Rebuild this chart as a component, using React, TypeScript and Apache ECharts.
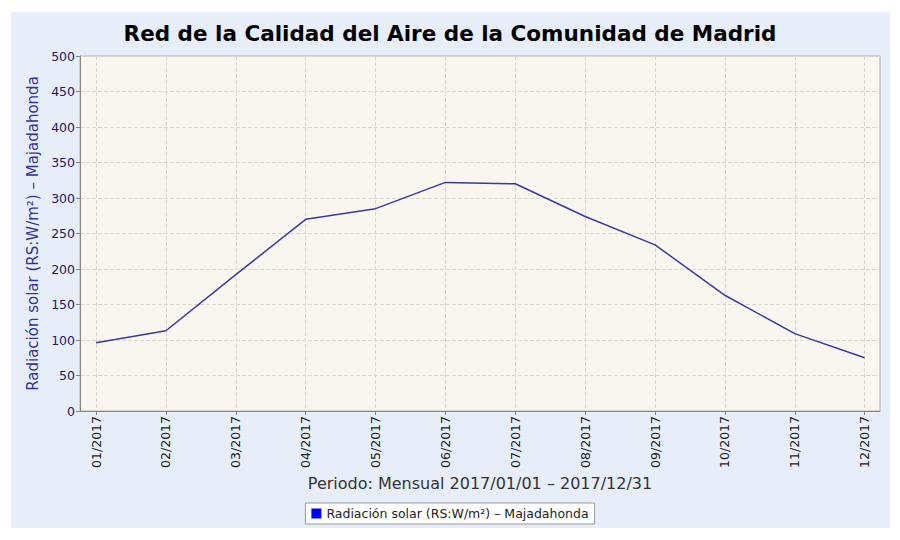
import React, { useEffect, useRef } from "react";
import * as echarts from "echarts";

const months = ["01/2017", "02/2017", "03/2017", "04/2017", "05/2017", "06/2017", "07/2017", "08/2017", "09/2017", "10/2017", "11/2017", "12/2017"];
const radiation = [96, 113, 192, 270, 285, 322, 320, 274, 234, 163, 109, 75];
const seriesName = "Radiación solar (RS:W/m²) – Majadahonda";
const titleText = "Red de la Calidad del Aire de la Comunidad de Madrid";
const xName = "Periodo: Mensual 2017/01/01 – 2017/12/31";

export default function App() {
  const ref = useRef<HTMLDivElement>(null);
  useEffect(() => {
    document.body.style.margin = "0";
    const chart = echarts.init(ref.current!, null, { renderer: "svg" });
    const idx = months.map((_, i) => i);
    chart.setOption({
      animation: false,
      backgroundColor: "#ffffff",
      textStyle: { fontFamily: "DejaVu Sans" },
      graphic: [
        {
          type: "rect",
          z: -10,
          shape: { x: 11, y: 12, width: 879, height: 516 },
          style: { fill: "#e7eef9" },
          silent: true,
        },
      ],
      title: {
        text: titleText,
        left: "center",
        top: 17,
        textStyle: { fontFamily: "DejaVu Sans", fontWeight: "bold", fontSize: 21.5, color: "#000" },
      },
      legend: {
        data: [{ name: seriesName, itemStyle: { color: "#0000ff" } }],
        top: 503,
        left: "center",
        icon: "rect",
        itemWidth: 10,
        itemHeight: 10,
        itemGap: 4,
        padding: [4, 6, 4, 6],
        backgroundColor: "#ffffff",
        borderColor: "#999999",
        borderWidth: 1,
        textStyle: { fontFamily: "DejaVu Sans", fontSize: 12.5, color: "#222" },
      },
      grid: {
        left: 80,
        top: 56,
        right: 20,
        bottom: 129,
        show: true,
        backgroundColor: "#f8f6ef",
        borderColor: "#b0b0b0",
        borderWidth: 1,
      },
      xAxis: {
        type: "value",
        min: -0.23,
        max: 11.22,
        name: xName,
        nameLocation: "middle",
        nameGap: 64,
        nameTextStyle: { fontFamily: "DejaVu Sans", fontSize: 16, color: "#333" },
        axisLine: { show: true, onZero: false, lineStyle: { color: "#888", width: 1 } },
        axisTick: { show: true, length: 4, customValues: idx, lineStyle: { color: "#888" } },
        axisLabel: {
          customValues: idx,
          rotate: 90,
          margin: 5,
          fontSize: 12.5,
          color: "#1a1a1a",
          fontFamily: "DejaVu Sans",
          formatter: (v: number) => months[Math.round(v)] ?? "",
        },
        splitLine: { show: true, lineStyle: { color: "#dcd8cc", type: "dashed", width: 1 } },
      },
      yAxis: {
        type: "value",
        min: 0,
        max: 500,
        interval: 50,
        name: seriesName,
        nameLocation: "middle",
        nameRotate: 90,
        nameGap: 40,
        nameTextStyle: { fontFamily: "DejaVu Sans", fontSize: 15, color: "#333399" },
        axisLine: { show: true, onZero: false, lineStyle: { color: "#888", width: 1 } },
        axisTick: { show: true, length: 4, lineStyle: { color: "#888" } },
        axisLabel: { fontSize: 12.5, color: "#1a1a66", margin: 5, fontFamily: "DejaVu Sans" },
        splitLine: { show: true, lineStyle: { color: "#dcd8cc", type: "dashed", width: 1 } },
      },
      series: [
        {
          name: seriesName,
          type: "line",
          data: radiation.map((v, i) => [i, v]),
          showSymbol: false,
          lineStyle: { color: "#3a3a9e", width: 1.5 },
          itemStyle: { color: "#0000ff" },
          z: 3,
        },
      ],
    });
    return () => chart.dispose();
  }, []);
  return <div ref={ref} style={{ width: 900, height: 540 }} />;
}
